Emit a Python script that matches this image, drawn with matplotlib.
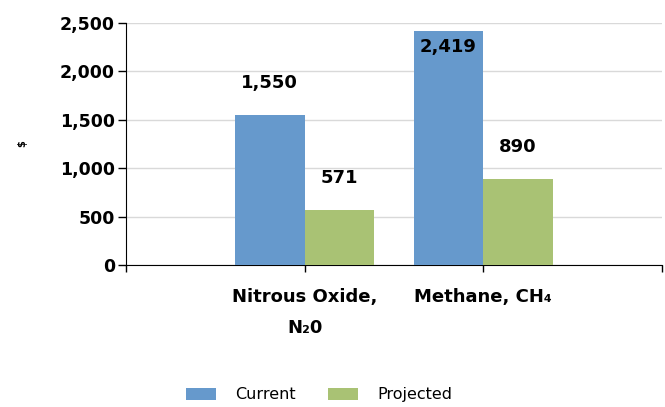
import matplotlib
matplotlib.use("Agg")
import matplotlib.pyplot as plt
from matplotlib.patches import Patch

categories = ["Nitrous Oxide,\nN₂0", "Methane, CH₄"]
current = [1550, 2419]
projected = [571, 890]
series_names = ["Current", "Projected"]
yticks = [0, 500, 1000, 1500, 2000, 2500]

c_blue = "#6699cc"
c_green = "#a9c274"

fig = plt.figure(figsize=(6.65, 4.07), dpi=100)
ax = fig.add_axes([0.1895, 0.349, 0.806, 0.5945])

w = 0.39
pos = [1, 2]
ax.bar([p - w / 2 for p in pos], current, width=w, color=c_blue, zorder=3)
ax.bar([p + w / 2 for p in pos], projected, width=w, color=c_green, zorder=3)

for p, v in zip(pos, current):
    y = v + 330 if v + 330 < 2400 else v - 170
    ax.text(p - w / 2, y, f"{v:,}", ha="center", va="center",
            fontsize=13, fontweight="bold", zorder=4)
for p, v in zip(pos, projected):
    y = v + 330 if v + 330 < 2400 else v - 170
    ax.text(p + w / 2, y, f"{v:,}", ha="center", va="center",
            fontsize=13, fontweight="bold", zorder=4)

ax.set_xlim(0, 3)
ax.set_ylim(0, 2500)
ax.set_yticks(yticks)
ax.set_yticklabels([f"{t:,}" for t in yticks], fontsize=12.5, fontweight="bold")
ax.set_xticks([0, 1, 2, 3])
ax.set_xticklabels([])
ax.tick_params(axis="y", length=6, width=1, direction="out", pad=2)
ax.tick_params(axis="x", length=5, width=1, direction="out")
for p, lab in zip(pos, categories):
    ax.text(p, -240, lab, ha="center", va="top", fontsize=13,
            fontweight="bold", linespacing=1.95, transform=ax.transData,
            clip_on=False)

ax.grid(axis="y", color="#d9d9d9", linewidth=1, zorder=0)
for s in ["top", "right"]:
    ax.spines[s].set_visible(False)
ax.spines["left"].set_color("black")
ax.spines["bottom"].set_color("black")

fig.text(0.033, 0.648, "$", rotation=90, fontsize=7, fontweight="bold",
         ha="center", va="center")

handles = [Patch(facecolor=c_blue, edgecolor="none"),
           Patch(facecolor=c_green, edgecolor="none")]
fig.legend(handles, series_names, loc="center", bbox_to_anchor=(0.48, 0.03),
           ncol=2, frameon=False, fontsize=11.5, handlelength=1.9,
           handleheight=0.8, columnspacing=2.0, handletextpad=1.2)

fig.savefig("out.png", dpi=100)
